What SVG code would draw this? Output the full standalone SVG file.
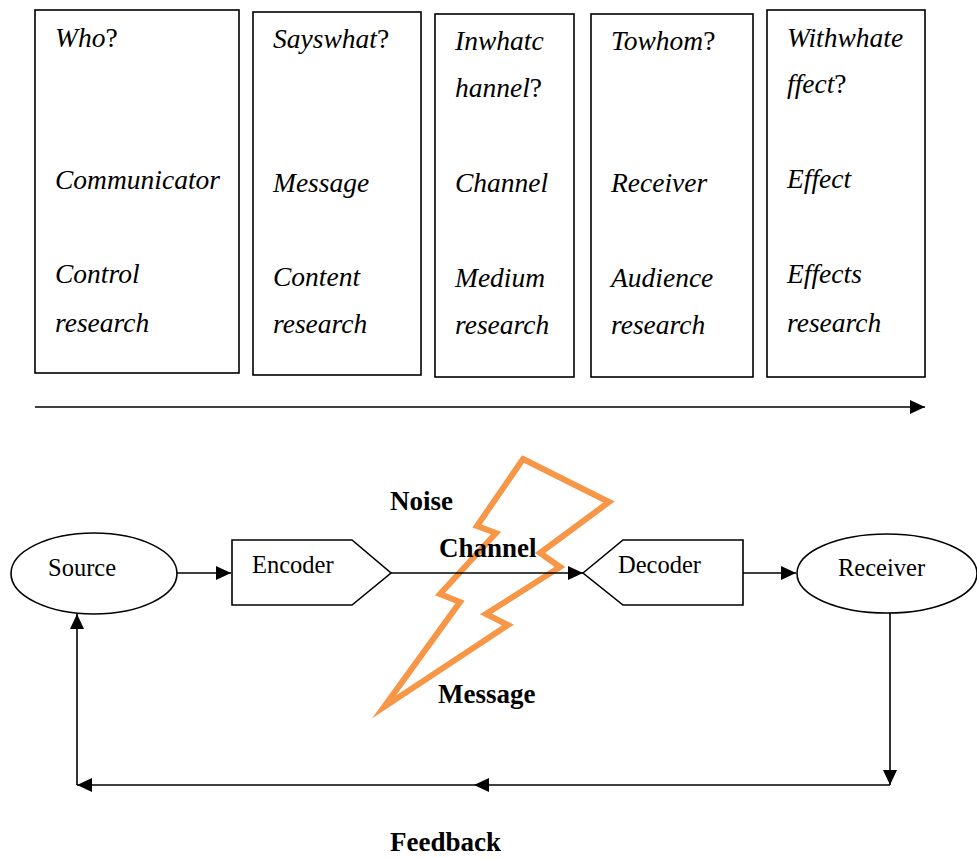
<svg xmlns="http://www.w3.org/2000/svg" width="977" height="858" viewBox="0 0 977 858">
  <style>
    .box { fill: #fff; stroke: #000; stroke-width: 1.6; }
    .it { font-family: "Liberation Serif", "Times New Roman", serif; font-style: italic; font-size: 27.5px; fill: #000; }
    .up { font-style: normal; }
    .node { fill: #fff; stroke: #000; stroke-width: 1.6; }
    .lbl { font-family: "Liberation Serif", "Times New Roman", serif; font-size: 24.5px; fill: #000; }
    .bold { font-family: "Liberation Serif", "Times New Roman", serif; font-weight: bold; font-size: 27px; fill: #000; }
    .wire { fill: none; stroke: #000; stroke-width: 1.6; }
    .bolt { fill: none; stroke: #F79646; stroke-width: 6; stroke-linejoin: miter; stroke-miterlimit: 10; }
  </style>
  <defs>
    <marker id="arrow" markerWidth="15" markerHeight="14" refX="15" refY="7" orient="auto" markerUnits="userSpaceOnUse">
      <path d="M0,0 L15,7 L0,14 Z" fill="#000"/>
    </marker>
  </defs>

  <rect width="977" height="858" fill="#fff"/>

  <!-- Lasswell formula columns -->
  <g id="who">
    <rect class="box" x="35" y="10" width="204" height="363"/>
    <text class="it" x="55" y="47">Who<tspan class="up">?</tspan></text>
    <text class="it" x="55" y="189">Communicator</text>
    <text class="it" x="55" y="283">Control</text>
    <text class="it" x="55" y="332">research</text>
  </g>
  <g id="says-what">
    <rect class="box" x="253" y="12" width="168" height="363"/>
    <text class="it" x="273" y="48">Sayswhat<tspan class="up">?</tspan></text>
    <text class="it" x="273" y="192">Message</text>
    <text class="it" x="273" y="286">Content</text>
    <text class="it" x="273" y="333">research</text>
  </g>
  <g id="in-what-channel">
    <rect class="box" x="435" y="14" width="139" height="363"/>
    <text class="it" x="455" y="50">Inwhatc</text>
    <text class="it" x="455" y="97">hannel<tspan class="up">?</tspan></text>
    <text class="it" x="455" y="192">Channel</text>
    <text class="it" x="455" y="287">Medium</text>
    <text class="it" x="455" y="334">research</text>
  </g>
  <g id="to-whom">
    <rect class="box" x="591" y="14" width="162" height="363"/>
    <text class="it" x="611" y="50">Towhom<tspan class="up">?</tspan></text>
    <text class="it" x="611" y="192">Receiver</text>
    <text class="it" x="611" y="287">Audience</text>
    <text class="it" x="611" y="334">research</text>
  </g>
  <g id="with-what-effect">
    <rect class="box" x="767" y="10" width="158" height="367"/>
    <text class="it" x="787" y="47">Withwhate</text>
    <text class="it" x="787" y="93">ffect<tspan class="up">?</tspan></text>
    <text class="it" x="787" y="188">Effect</text>
    <text class="it" x="787" y="283">Effects</text>
    <text class="it" x="787" y="332">research</text>
  </g>

  <!-- noise bolt -->
  <g id="noise-bolt">
    <polygon class="bolt" points="523,459 609,502 540,553 560,567 486,614 508,625 384,707 460,602 440,594 496,533 477,526"/>
  </g>

  <!-- communication model nodes -->
  <g id="source">
    <ellipse class="node" cx="94" cy="573.5" rx="83" ry="40.5"/>
    <text class="lbl" x="48" y="576">Source</text>
  </g>
  <g id="encoder">
    <polygon class="node" points="232,540 352,540 391,573 352,605 232,605"/>
    <text class="lbl" x="252" y="573">Encoder</text>
  </g>
  <g id="decoder">
    <polygon class="node" points="583,573 623,540 743,540 743,605 623,605"/>
    <text class="lbl" x="618" y="573">Decoder</text>
  </g>
  <g id="receiver">
    <ellipse class="node" cx="887" cy="573.5" rx="90" ry="39.5"/>
    <text class="lbl" x="838" y="576">Receiver</text>
  </g>

  <!-- connectors -->
  <g id="connectors">
    <line class="wire" x1="35" y1="407" x2="925" y2="407" marker-end="url(#arrow)"/>
    <line class="wire" x1="177" y1="573" x2="231" y2="573" marker-end="url(#arrow)"/>
    <line class="wire" x1="391" y1="573" x2="583" y2="573" marker-end="url(#arrow)"/>
    <line class="wire" x1="743" y1="573" x2="796" y2="573" marker-end="url(#arrow)"/>
    <line class="wire" x1="890" y1="613" x2="890" y2="785" marker-end="url(#arrow)"/>
    <line class="wire" x1="890" y1="785" x2="474" y2="785" marker-end="url(#arrow)"/>
    <line class="wire" x1="474" y1="785" x2="77" y2="785" marker-end="url(#arrow)"/>
    <line class="wire" x1="77" y1="785" x2="77" y2="614" marker-end="url(#arrow)"/>
  </g>

  <!-- channel labels -->
  <g id="labels">
    <text class="bold" x="390" y="510">Noise</text>
    <text class="bold" x="439" y="557">Channel</text>
    <text class="bold" x="438" y="703">Message</text>
    <text class="bold" x="390" y="851">Feedback</text>
  </g>
</svg>
